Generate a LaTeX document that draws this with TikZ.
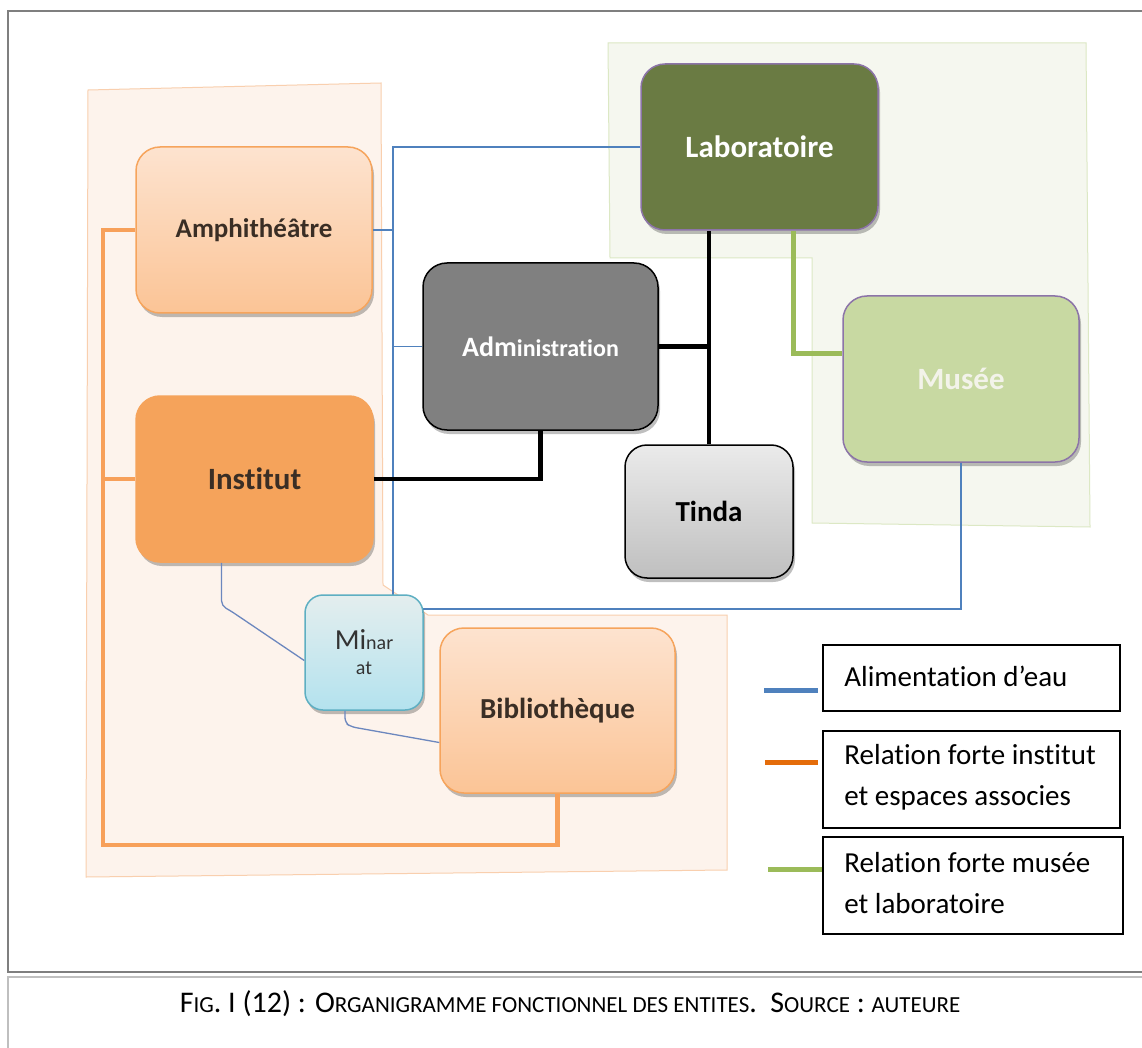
\documentclass[tikz,border=0pt]{standalone}
\usepackage{fontspec}
\setmainfont{Carlito}[Ligatures=NoCommon]
\usetikzlibrary{shadows}
\definecolor{framec}{HTML}{7F7F7F}
\definecolor{capc}{HTML}{BFBFBF}
\definecolor{obg}{HTML}{FDF3EC}
\definecolor{obgline}{HTML}{F9CFAE}
\definecolor{gbg}{HTML}{F5F7EF}
\definecolor{gbgline}{HTML}{DCE8C4}
\definecolor{labfill}{HTML}{6A7B43}
\definecolor{purp}{HTML}{8C74A8}
\definecolor{otop}{HTML}{FDE3CF}
\definecolor{obot}{HTML}{FBC496}
\definecolor{oline}{HTML}{F6A45C}
\definecolor{otext}{HTML}{3A2E25}
\definecolor{instfill}{HTML}{F5A35B}
\definecolor{musfill}{HTML}{C8D9A2}
\definecolor{mustext}{HTML}{F3F3EA}
\definecolor{mtop}{HTML}{E4EEEE}
\definecolor{mbot}{HTML}{B3E2EE}
\definecolor{mline}{HTML}{5EAFC2}
\definecolor{waterc}{HTML}{4F81BD}
\definecolor{water2c}{HTML}{6C87BE}
\definecolor{grnc}{HTML}{9BBB59}
\definecolor{orgc}{HTML}{F7A05A}
\definecolor{orgleg}{HTML}{E46C0A}
\newcommand{\capB}[1]{{\fontsize{30}{34}\selectfont #1}}
\newcommand{\capS}[1]{{\fontsize{23}{26}\selectfont #1}}
\begin{document}
\begin{tikzpicture}[x=1pt,y=-1pt,
  box/.style={rounded corners=24pt, align=center, line width=1.5pt,
    minimum width=236pt, minimum height=166pt, inner sep=0pt,
    drop shadow={shadow xshift=2pt, shadow yshift=-4pt, opacity=0.25, fill=black}},
  orangebox/.style={box, draw=oline, top color=otop, bottom color=obot, text=otext},
  water/.style={draw=waterc, line width=1.5pt},
  water2/.style={draw=water2c, line width=1.3pt, rounded corners=5pt},
  blk/.style={draw=black, line width=4.5pt},
  grn/.style={draw=grnc, line width=5pt},
  org/.style={draw=orgc, line width=4.5pt},
  legbox/.style={draw=black, line width=1.6pt, fill=white},
  legtext/.style={font=\fontsize{29}{41}\selectfont, align=left, inner sep=0pt, anchor=west},
  legline/.style={line width=5pt}
]
\useasboundingbox (0,0) rectangle (1142,1048);
\fill[white] (0,0) rectangle (1142,1048);
% frame and caption box
\draw[framec, line width=2.5pt] (1142,11) -- (8,11) -- (8,972) -- (1142,972);
\draw[capc, line width=2pt] (1142,977) -- (8,977) -- (8,1048);
\node[inner sep=0pt] (caption) at (570,1004) {\capB{F}\capS{IG}\capB{. I (12) : O}\capS{RGANIGRAMME FONCTIONNEL DES ENTITES}\capB{.\ \ S}\capS{OURCE}\capB{ : }\capS{AUTEURE}};
% background zones
\draw[fill=obg, draw=obgline, line width=1pt] (88,90) -- (381,83) -- (383,585) -- (428,615) -- (727,615) -- (727,870) -- (86,877) -- cycle;
\draw[fill=gbg, draw=gbgline, line width=1pt] (608,43) -- (1086,43) -- (1090,527) -- (812,523) -- (812,258) -- (610,258) -- cycle;
% nodes
\node[box, fill=labfill, draw=purp, text=white, minimum width=237pt, font=\bfseries\fontsize{31}{36}\selectfont] (lab) at (759.5,147) {Laboratoire};
\node[orangebox, font=\bfseries\fontsize{27}{32}\selectfont] (amphi) at (254,230) {Amphithéâtre};
\node[box, fill=black!50, draw=black, text=white, minimum width=235pt, minimum height=167pt, font=\bfseries\fontsize{24}{30}\selectfont] (admin) at (540.5,346.5) {{\fontsize{28}{30}\selectfont Adm}inistration};
\node[box, fill=instfill, draw=instfill, text=otext, minimum width=237pt, font=\bfseries\fontsize{31}{36}\selectfont] (inst) at (254.5,479) {Institut};
\node[box, top color=black!8, bottom color=black!25, draw=black, minimum width=168pt, minimum height=133pt, rounded corners=22pt, font=\bfseries\fontsize{29}{34}\selectfont] (tinda) at (709,511.5) {Tinda};
\node[box, fill=musfill, draw=purp, text=mustext, font=\bfseries\fontsize{31}{36}\selectfont] (musee) at (961,379) {Musée};
\node[orangebox, minimum width=235pt, minimum height=165pt, font=\bfseries\fontsize{29}{32}\selectfont] (biblio) at (557.5,710.5) {Bibliothèque};
% connectors (drawn before Minarat so it covers the water line)
\coordinate (wTop) at (393,147);
\coordinate (wBot) at (393,609);
\draw[water] (lab.west) -- (wTop) -- (wBot) -| (musee.south);
\draw[water] (amphi.east) -- (amphi.east -| wTop);
\draw[water] (admin.west) -- (admin.west -| wTop);
\coordinate (oTop) at (103,230);
\coordinate (oBot) at (103,845);
\draw[org] (amphi.west) -- (oTop) -- (oBot) -| (biblio.south);
\draw[org] (inst.west) -- (inst.west -| oTop);
\draw[blk] (tinda.north) -- (tinda.north |- lab.south);
\draw[blk] (admin.east) -- (admin.east -| tinda.north);
\draw[blk] (inst.east) -| (admin.south);
\draw[grn] ([xshift=33.5pt]lab.south) |- ([yshift=26pt]musee.west);
\node[box, top color=mtop, bottom color=mbot, draw=mline, minimum width=118pt, minimum height=115pt, rounded corners=18pt, text=black!80, font=\fontsize{20}{25}\selectfont] (mina) at (364,652.5) {{\fontsize{29}{30}\selectfont Mi}nar\\at};
\draw[water2] ([xshift=-33pt]inst.south) -- ++(0,43) -- ++(9,5) -- ([yshift=-8pt]mina.west);
\draw[water2] ([xshift=-19pt]mina.south) -- ++(0,12) -- ++(6,4) -- ([yshift=-32pt]biblio.west);
% legend
\node[legbox, minimum width=297pt, minimum height=66pt] (leg1) at (971.5,678) {};
\node[legtext] (leg1t) at ([xshift=22pt,yshift=2pt]leg1.west) {Alimentation d’eau};
\node[legbox, minimum width=297pt, minimum height=97pt] (leg2) at (971.5,779.5) {};
\node[legtext] (leg2t) at ([xshift=22pt,yshift=2pt]leg2.west) {Relation forte institut\\et espaces associes};
\node[legbox, minimum width=300pt, minimum height=97pt] (leg3) at (973,885.5) {};
\node[legtext] (leg3t) at ([xshift=22pt,yshift=2pt]leg3.west) {Relation forte musée\\et laboratoire};
\draw[legline, draw=waterc] (764,690) -- (818,690);
\draw[legline, draw=orgleg] (765,762) -- (818,762);
\draw[legline, draw=grnc] (768,869) -- (822,869);
\end{tikzpicture}
\end{document}
